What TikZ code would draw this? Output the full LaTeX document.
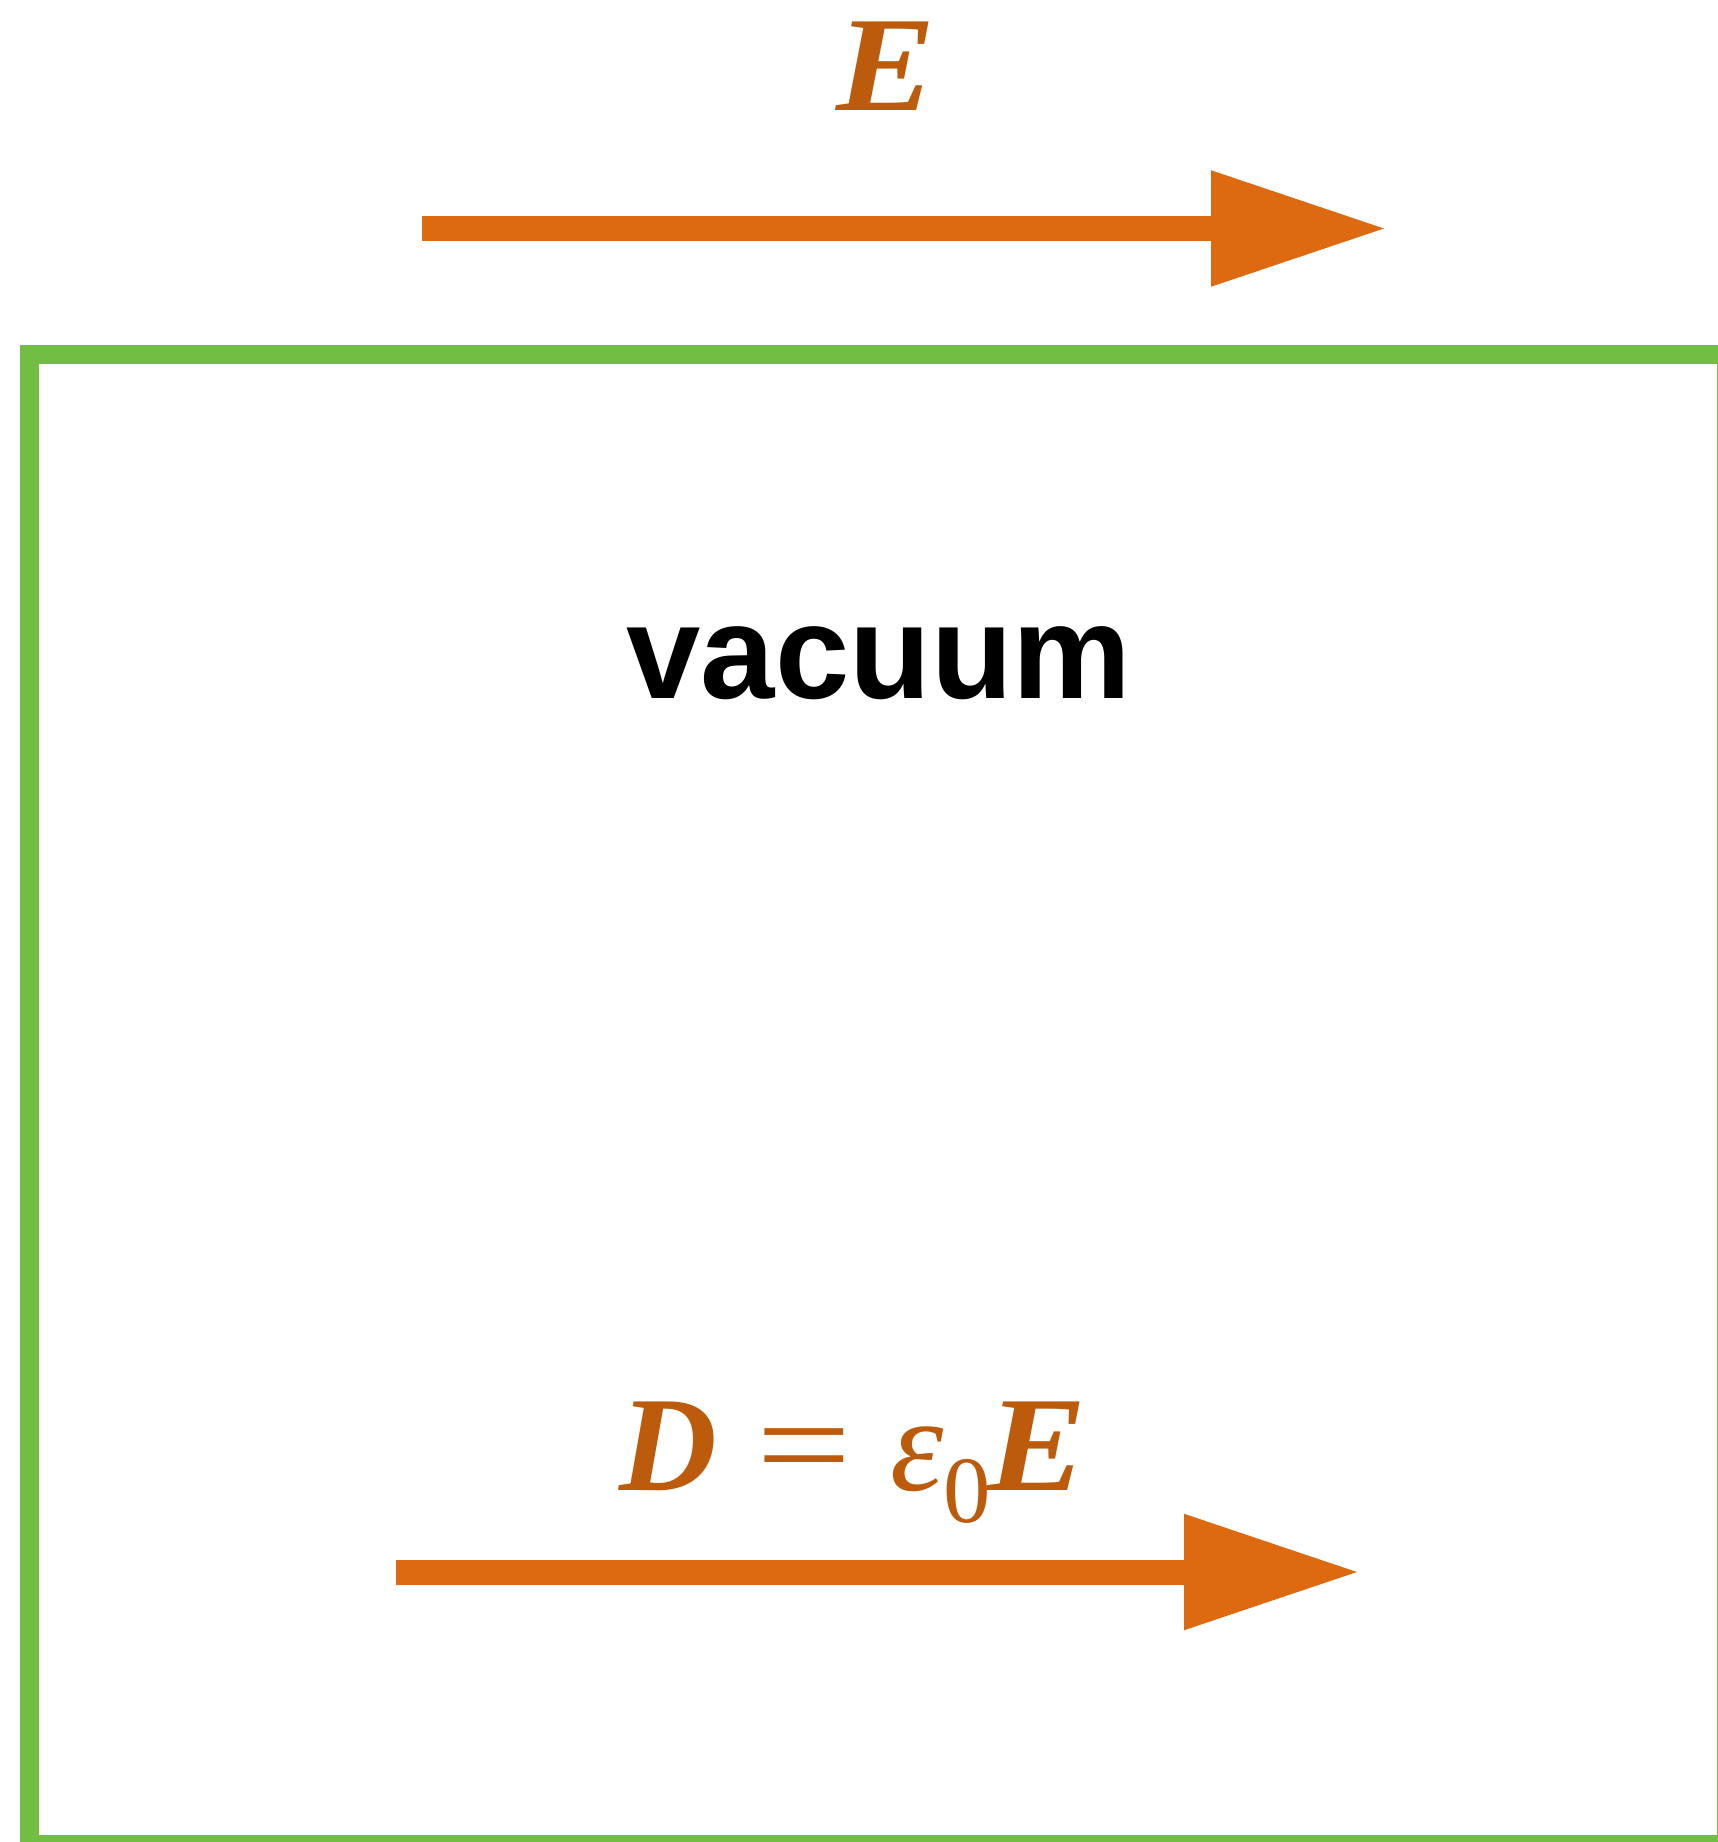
\documentclass[tikz,border=0pt]{standalone}
\usepackage{fontspec}
\setmainfont{Liberation Serif}
\newfontfamily\vacfont{Liberation Sans}
\usetikzlibrary{arrows.meta}
\definecolor{fieldarrow}{RGB}{221,106,16}
\definecolor{fieldtext}{RGB}{189,91,12}
\definecolor{framegreen}{RGB}{114,190,68}
\tikzset{
regionframe/.style={draw=framegreen,line width=0.19cm},
fieldvec/.style={-{Triangle[length=1.76cm,width=1.09cm]},line width=0.25cm,fieldarrow},
fieldlabel/.style={font=\fontsize{38.5pt}{40pt}\selectfont,text=fieldtext,inner sep=0pt,anchor=base},
medium/.style={font=\vacfont\bfseries\fontsize{38pt}{40pt}\selectfont,inner sep=0pt,anchor=base}
}
\newcommand{\subzero}{\raisebox{-0.32cm}{\fontsize{27pt}{28pt}\selectfont 0}}
\newcommand{\vecE}{\scalebox{1.1}[1]{\textbf{\textit{E}}}}

\begin{document}
\begin{tikzpicture}
\useasboundingbox (0,0) rectangle (17.18,-18.42);
\clip (0,0) rectangle (17.18,-18.42);
\draw[regionframe] (0.295,-3.54) rectangle (17.26,-18.445);
\coordinate (Etail) at (4.22,-2.285);
\coordinate (Etip) at (13.87,-2.285);
\draw[fieldvec] (Etail) -- (Etip);
\node[fieldlabel] (Elabel) at (8.86,-1.10) {\vecE};
\node[medium] (vac) at (8.79,-6.98) {vacuum};
\coordinate (Dtail) at (3.96,-15.72);
\coordinate (Dtip) at (13.60,-15.72);
\draw[fieldvec] (Dtail) -- (Dtip);
\node[fieldlabel] (Dlabel) at (8.53,-14.90) {\textbf{\textit{D}}\hspace{0.39cm}\scalebox{1.25}[1]{=}\hspace{0.39cm}\textit{ε}\subzero\kern-0.04cm\vecE};
\end{tikzpicture}
\end{document}
